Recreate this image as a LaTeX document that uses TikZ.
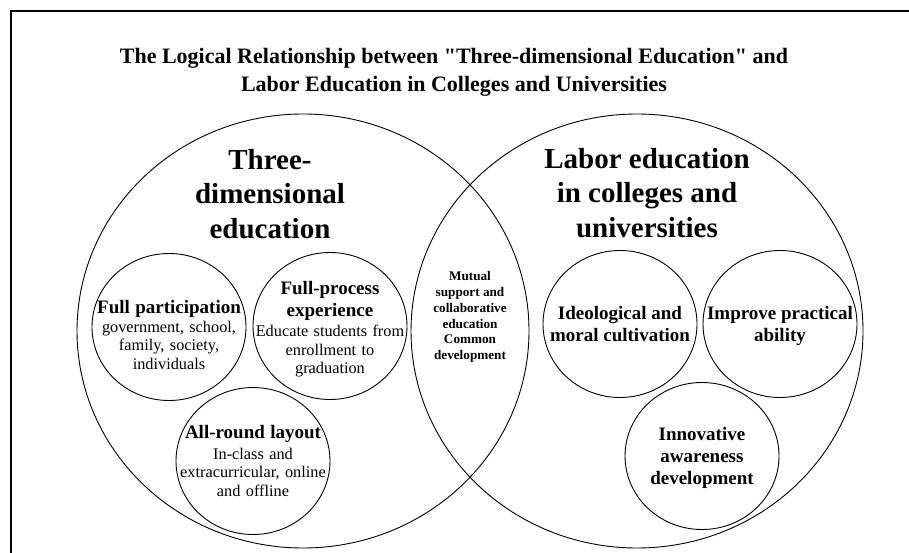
\documentclass[tikz,border=0pt]{standalone}
\usepackage{fontspec}
\setmainfont{Liberation Serif}[Ligatures=TeXOff]
\usetikzlibrary{shapes.geometric}
\begin{document}
\begin{tikzpicture}[x=1pt,y=-1pt,
  area/.style={draw, line width=0.9pt, ellipse, inner sep=0pt,
    minimum width=452pt, minimum height=434pt},
  bubble/.style={draw, line width=0.9pt, ellipse, inner sep=0pt,
    minimum width=154pt, minimum height=147pt},
  headtxt/.style={font=\fontsize{29}{34.5}\selectfont\bfseries,
    align=center, inner sep=0pt, anchor=north},
  keytxt/.style={font=\fontsize{19}{22}\selectfont\bfseries,
    align=center, inner sep=0pt},
  mixtxt/.style={text width=160pt, align=center, inner sep=0pt,
    font=\fontsize{16.3}{18.5}\selectfont},
  overlaptxt/.style={font=\fontsize{13.2}{15.8}\selectfont\bfseries,
    align=center, inner sep=0pt},
  frameline/.style={line width=1.2pt}
]
\useasboundingbox (0,0) rectangle (909,553);

% open frame along the top and left edges
\coordinate (fa) at (11,553);
\coordinate (fb) at (11,11);
\coordinate (fc) at (909,11);
\draw[frameline] (fa) -- (fb) -- (fc);

% heading
\node[font=\fontsize{22}{28}\selectfont\bfseries, align=center] (title) at (454,72)
  {The Logical Relationship between "Three-dimensional Education" and\\
   Labor Education in Colleges and Universities};

% the two overlapping areas
\node[area] (tde) at (303,331) {};
\node[area] (lab) at (637,331) {};

\node[headtxt] (tdehead) at (270,149) {Three-\\dimensional\\education};
\node[headtxt] (labhead) at (647,148) {Labor education\\in colleges and\\universities};

% shared region
\node[overlaptxt] (mutual) at (470,317)
  {Mutual\\support and\\collaborative\\education\\Common\\development};

% left-hand components
\node[bubble] (fp) at (169,327) {};
\node[bubble] (fpe) at (330,326) {};
\node[bubble] (ar) at (253,461) {};

\node[mixtxt] (fptxt) at (169,335)
  {{\fontsize{19}{22}\selectfont\bfseries Full participation\par}\vspace{0pt}
   government, school,\\family, society,\\individuals};
\node[mixtxt] (fpetxt) at (330,329)
  {{\fontsize{19}{22}\selectfont\bfseries Full-process\\experience\par}\vspace{2pt}
   Educate students from\\enrollment to\\graduation};
\node[mixtxt] (artxt) at (ar.center)
  {{\fontsize{19}{22}\selectfont\bfseries All-round layout\par}\vspace{2pt}
   In-class and\\extracurricular, online\\and offline};

% right-hand components
\node[bubble] (ideo) at (620,324) {};
\node[bubble] (prac) at (780,324) {};
\node[bubble] (innov) at (702,456) {};

\node[keytxt] (ideotxt) at (ideo.center) {Ideological and\\moral cultivation};
\node[keytxt] (practxt) at (780,326) {Improve practical\\ability};
\node[keytxt] (innovtxt) at (702,458) {Innovative\\awareness\\development};
\end{tikzpicture}
\end{document}
